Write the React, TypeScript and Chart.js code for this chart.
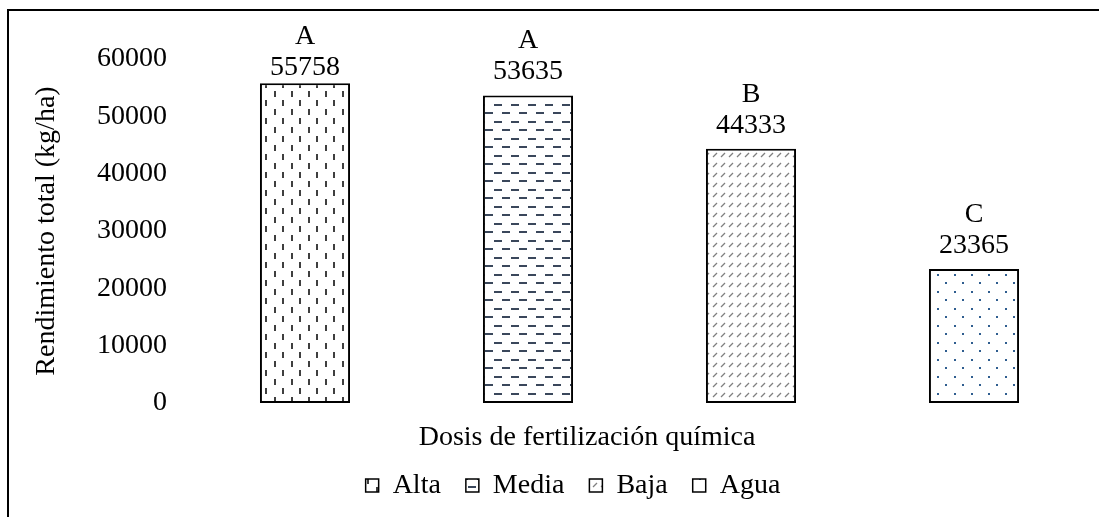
import React, { useEffect, useRef } from "react";
import { Chart, registerables } from "chart.js";

Chart.register(...registerables);

const categories = ["Alta", "Media", "Baja", "Agua"];
const values = [55758, 53635, 44333, 23365];
const letters = ["A", "A", "B", "C"];
const yTicks = [0, 10000, 20000, 30000, 40000, 50000, 60000];
const yTitle = "Rendimiento total (kg/ha)";
const xTitle = "Dosis de fertilización química";

const FONT = "'Liberation Serif', 'Times New Roman', serif";
const FONT_SIZE = 28;
const LEGEND_CENTER = 573;
const XTITLE_CENTER = 587;

function makePattern(kind: string): CanvasPattern {
  const c = document.createElement("canvas");
  let w = 17;
  let h = 17;
  if (kind === "Alta") { w = 17; h = 18; }
  if (kind === "Baja") { w = 8; h = 10; }
  c.width = w;
  c.height = h;
  const g = c.getContext("2d")!;
  g.fillStyle = "#ffffff";
  g.fillRect(0, 0, w, h);
  if (kind === "Alta") {
    g.fillStyle = "#3f3f3f";
    g.fillRect(2, 1, 2, 6);
    g.fillRect(10, 10, 2, 6);
  } else if (kind === "Media") {
    g.fillStyle = "#3a475b";
    g.fillRect(1, 2, 8, 2);
    g.fillRect(9, 10, 8, 2);
  } else if (kind === "Baja") {
    g.strokeStyle = "#808080";
    g.lineWidth = 1.2;
    g.beginPath();
    g.moveTo(1, 7);
    g.lineTo(5, 3);
    g.stroke();
  } else {
    g.fillStyle = "#2f5d8f";
    g.fillRect(2, 2, 2, 2);
    g.fillRect(10, 10, 2, 2);
  }
  return g.createPattern(c, "repeat")!;
}

const framePlugin = {
  id: "frame",
  beforeDraw(chart: any) {
    const ctx = chart.ctx;
    ctx.save();
    ctx.strokeStyle = "#000";
    ctx.lineWidth = 2;
    ctx.beginPath();
    ctx.moveTo(8, chart.height + 10);
    ctx.lineTo(8, 10);
    ctx.lineTo(chart.width + 10, 10);
    ctx.stroke();
    ctx.restore();
  },
};

const shiftPlugin = {
  id: "shift",
  afterLayout(chart: any) {
    const lg = chart.legend;
    if (lg) {
      const dx = LEGEND_CENTER - (lg.left + lg.right) / 2;
      lg.left += dx;
      lg.right += dx;
    }
    const tb = chart.titleBlock;
    if (tb) {
      const dx = XTITLE_CENTER - (tb.left + tb.right) / 2;
      tb.left += dx;
      tb.right += dx;
    }
  },
};

const labelsPlugin = {
  id: "barLabels",
  afterDatasetsDraw(chart: any) {
    const ctx = chart.ctx;
    const meta = chart.getDatasetMeta(0);
    ctx.save();
    ctx.font = `${FONT_SIZE}px ${FONT}`;
    ctx.fillStyle = "#000";
    ctx.textAlign = "center";
    ctx.textBaseline = "alphabetic";
    meta.data.forEach((el: any, i: number) => {
      const { x, y } = el.getProps(["x", "y"], true);
      const base = Math.max(y - 16, chart.chartArea.top + 16);
      ctx.fillText(String(values[i]), x, base);
      ctx.fillText(letters[i], x, base - 31);
    });
    ctx.restore();
  },
};

export default function App() {
  const ref = useRef<HTMLCanvasElement | null>(null);
  useEffect(() => {
    if (!ref.current) return;
    const patterns = categories.map(makePattern);
    const font = { family: FONT, size: FONT_SIZE, weight: "normal" as const };
    const chart = new Chart(ref.current, {
      type: "bar",
      data: {
        labels: categories,
        datasets: [
          {
            label: "Rendimiento",
            data: values,
            backgroundColor: patterns as any,
            borderColor: "#000",
            borderWidth: 2,
            borderSkipped: false,
            barPercentage: 0.404,
            categoryPercentage: 1,
          },
        ],
      },
      options: {
        responsive: false,
        animation: false,
        devicePixelRatio: 1,
        layout: { padding: { left: 10, right: 13.5, top: 59, bottom: 7.5 } },
        scales: {
          x: { display: false, offset: true },
          y: {
            min: 0,
            max: 60000,
            afterBuildTicks: (s: any) => {
              s.ticks = yTicks.map((v) => ({ value: v }));
            },
            afterFit: (s: any) => {
              s.width = 183.5;
            },
            ticks: { font, color: "#000", padding: 26.5, callback: (v: any) => String(v) },
            grid: { display: false, drawTicks: false },
            border: { display: false },
            title: {
              display: true,
              text: yTitle,
              font,
              color: "#000",
              padding: { top: 20, bottom: 0 },
            },
          },
        },
        plugins: {
          legend: {
            position: "bottom",
            labels: {
              font,
              color: "#000",
              boxWidth: 13,
              boxHeight: 13,
              padding: 25,
              generateLabels: () =>
                categories.map((c, i) => ({
                  text: c,
                  fillStyle: patterns[i] as any,
                  strokeStyle: "#000",
                  lineWidth: 1.5,
                  hidden: false,
                  index: i,
                  datasetIndex: 0,
                  fontColor: "#000",
                })),
            },
          },
          title: {
            display: true,
            position: "bottom",
            text: xTitle,
            font,
            color: "#000",
            padding: { top: 17.7, bottom: -7.8 },
            weight: 500,
          } as any,
          tooltip: { enabled: false },
        },
      },
      plugins: [framePlugin, shiftPlugin, labelsPlugin],
    });
    return () => chart.destroy();
  }, []);
  return (
    <div style={{ position: "fixed", left: 0, top: 0, width: 1099, height: 517, background: "#fff" }}>
      <canvas ref={ref} width={1099} height={517} style={{ display: "block", width: 1099, height: 517 }} />
    </div>
  );
}
